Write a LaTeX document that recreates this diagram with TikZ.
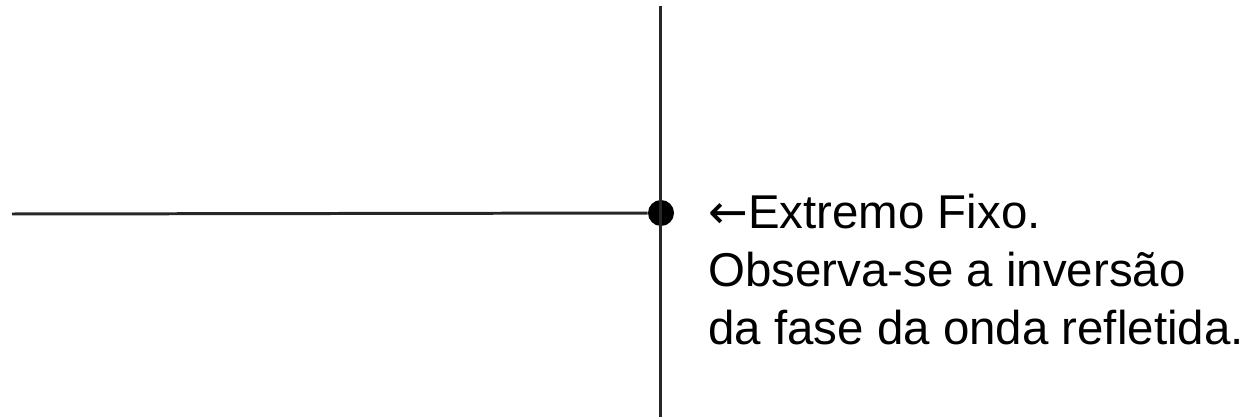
\documentclass[tikz,border=0pt]{standalone}
\usepackage{fontspec}
\setmainfont{Liberation Sans}
\newfontfamily\arrowfont{DejaVu Sans}
\usepackage{tikz}
\usetikzlibrary{positioning}

\tikzset{
    corda/.style={line width=1.7pt, black!85},
    legenda/.style={anchor=base west, inner sep=0pt, font=\fontsize{27}{33}\selectfont}
}

\begin{document}
\begin{tikzpicture}
    \useasboundingbox (0,0) rectangle (25.02,8.34);

    % CORDA I PAREDE
    \coordinate (esq) at (0.24,4.06);
    \coordinate (dalt) at (13.2,8.22);
    \coordinate (baix) at (13.2,0);
    \node[circle, fill=black, inner sep=0pt, minimum size=0.52cm] (fix) at (13.22,4.08) {};

    \draw[corda] (dalt) -- (baix);
    \draw[corda] (esq) -- (fix);

    % TEXT
    \node[legenda] (l1) at (14.16,3.76) {{\arrowfont ←}Extremo Fixo.};
    \node[legenda] (l2) at ([yshift=-1.16cm]l1.base west) {Observa-se a inversão};
    \node[legenda] (l3) at ([yshift=-1.16cm]l2.base west) {da fase da onda refletida.};
\end{tikzpicture}
\end{document}
